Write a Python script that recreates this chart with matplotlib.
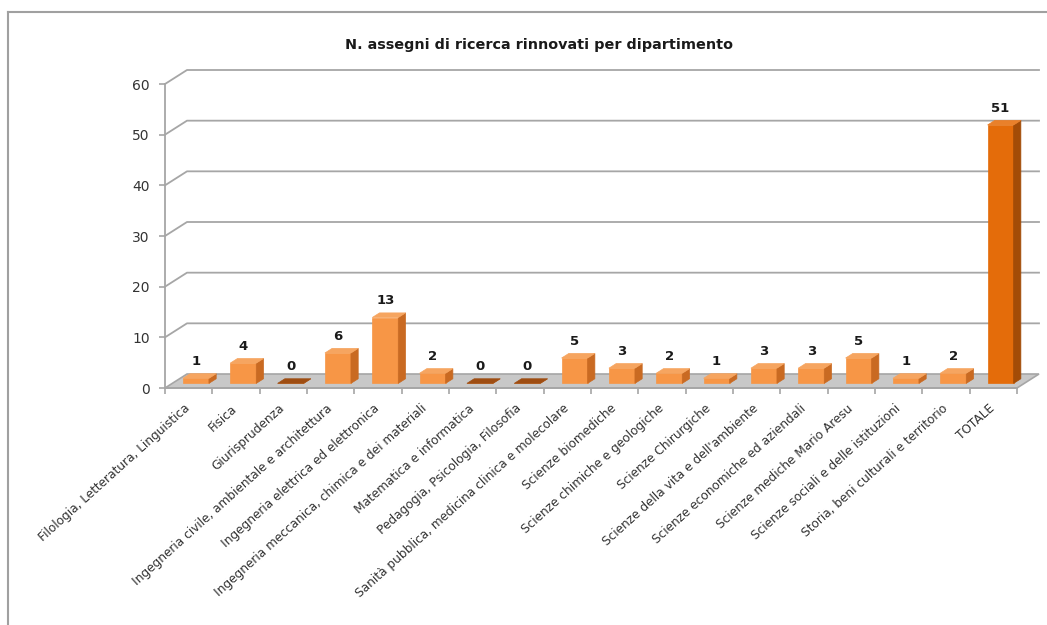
import matplotlib
matplotlib.use("Agg")
import matplotlib.pyplot as plt
from matplotlib.patches import Polygon
from matplotlib.lines import Line2D

departments = [
    "Filologia, Letteratura, Linguistica",
    "Fisica",
    "Giurisprudenza",
    "Ingegneria civile, ambientale e architettura",
    "Ingegneria elettrica ed elettronica",
    "Ingegneria meccanica, chimica e dei materiali",
    "Matematica e informatica",
    "Pedagogia, Psicologia, Filosofia",
    "Sanità pubblica, medicina clinica e molecolare",
    "Scienze biomediche",
    "Scienze chimiche e geologiche",
    "Scienze Chirurgiche",
    "Scienze della vita e dell'ambiente",
    "Scienze economiche ed aziendali",
    "Scienze mediche Mario Aresu",
    "Scienze sociali e delle istituzioni",
    "Storia, beni culturali e territorio",
    "TOTALE",
]
renewed = [1, 4, 0, 6, 13, 2, 0, 0, 5, 3, 2, 1, 3, 3, 5, 1, 2, 51]
y_ticks = [0, 10, 20, 30, 40, 50, 60]
title = "N. assegni di ricerca rinnovati per dipartimento"

W, H = 1047, 625
fig = plt.figure(figsize=(W / 100, H / 100), dpi=100)
# axes: x 0..18 -> px 165..1017, y 0..60 -> px 388..84
ax = fig.add_axes([165 / W, 1 - 388 / H, (1017 - 165) / W, (388 - 84) / H])
n = len(departments)
ax.set_xlim(0, n)
ax.set_ylim(0, 60)
ax.patch.set_visible(False)

# pseudo-3D depth offset (data units)
dx, dy = 22 / 47.33, 14 / 5.067
f0, f1 = 0.33, 0.66
bw = 0.55
grid_c = "#A6A6A6"

# floor
floor = Polygon([(0, 0), (n, 0), (n + dx, dy), (dx, dy)], closed=True,
                facecolor="#C8C8C8", edgecolor=grid_c, lw=1.2, clip_on=False, zorder=1)
ax.add_patch(floor)

# back wall gridlines with diagonal from the left axis
for v in y_ticks[1:]:
    ax.plot([0, dx, n + dx], [v, v + dy, v + dy], color=grid_c, lw=1.3,
            clip_on=False, zorder=1)

# bars
for i, v in enumerate(renewed):
    total = departments[i] == "TOTALE"
    front_c, side_c, top_c = ("#E46C0A", "#A34C07", "#E9802A") if total else ("#F79646", "#C96A22", "#F6A560")
    if v == 0:
        top_c = "#9E4D12"
    xl = i + 0.5 - bw / 2 + f0 * dx
    xr = xl + bw
    yb = f0 * dy
    yt = v + yb
    ddx, ddy = (f1 - f0) * dx, (f1 - f0) * dy
    faces = [
        ([(xl, yb), (xr, yb), (xr, yt), (xl, yt)], front_c),
        ([(xr, yb), (xr + ddx, yb + ddy), (xr + ddx, yt + ddy), (xr, yt)], side_c),
        ([(xl, yt), (xr, yt), (xr + ddx, yt + ddy), (xl + ddx, yt + ddy)], top_c),
    ]
    for pts, c in faces:
        ax.add_patch(Polygon(pts, closed=True, facecolor=c, edgecolor=c, lw=0.5,
                             clip_on=False, zorder=3))
    ax.annotate(str(v), xy=(xl + bw / 2, yt + ddy), xytext=(0, 4),
                textcoords="offset points", ha="center", va="bottom",
                fontsize=9.5, fontweight="bold", color="#1a1a1a",
                annotation_clip=False, zorder=4)

# axes styling
for s in ["top", "right"]:
    ax.spines[s].set_visible(False)
for s in ["left", "bottom"]:
    ax.spines[s].set_color(grid_c)
    ax.spines[s].set_linewidth(1.3)
    ax.spines[s].set_zorder(2)
ax.set_yticks(y_ticks)
ax.tick_params(axis="y", length=4, width=1.2, color=grid_c, labelsize=10,
               labelcolor="#333333", pad=7)
ax.set_xticks(range(n + 1))
ax.set_xticklabels([])
ax.tick_params(axis="x", which="major", length=4, width=1.2, color=grid_c)
ax.set_xticks([i + 0.4 for i in range(n)], minor=True)
ax.set_xticklabels(departments, minor=True, rotation=42, ha="right",
                   rotation_mode="anchor", fontsize=8.7, color="#333333")
ax.tick_params(axis="x", which="minor", length=0, pad=10)

fig.text(539 / W, 1 - 45 / H, title, ha="center", va="center",
         fontsize=10.4, fontweight="bold", color="#1a1a1a")

# outer chart frame (left and top edges visible)
fig.add_artist(Line2D([8 / W, 8 / W], [0, 1 - 12 / H], transform=fig.transFigure,
                      color="#A0A0A0", lw=1.5))
fig.add_artist(Line2D([8 / W, 1], [1 - 12 / H, 1 - 12 / H], transform=fig.transFigure,
                      color="#A0A0A0", lw=1.5))

fig.savefig("out.png", dpi=100)
